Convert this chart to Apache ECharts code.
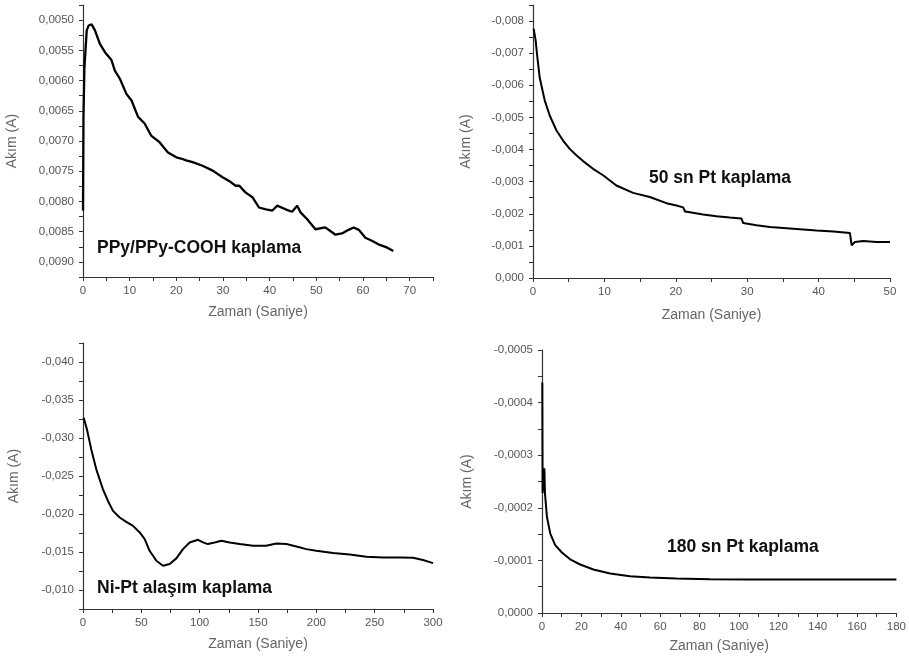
<!DOCTYPE html>
<html>
<head>
<meta charset="utf-8">
<script src="https://cdn.jsdelivr.net/npm/echarts@6/dist/echarts.min.js"></script>
<style>
html,body{margin:0;padding:0;background:#fff;}
#c{width:909px;height:659px;}
</style>
</head>
<body>
<div id="c"></div>
<script>
// ---- Data (time in seconds, current in A) ----
const ppyTime = [0, 0.1, 0.3, 0.64, 0.8, 1.2, 1.85, 2.56, 3.6, 4.7, 6.1, 6.8, 7.9, 9.3, 10.4, 11.8, 13.2, 14.6, 16.4, 18.2, 20, 21, 22.1, 23.5, 25.6, 27.8, 29.9, 31.3, 32.7, 33.5, 34.8, 36.3, 37.7, 39.2, 40.6, 41.6, 43.4, 44.8, 45.9, 46.6, 48, 49.8, 51.9, 53, 54.1, 55.5, 56.9, 58, 59.1, 60.5, 61.9, 63.3, 65.1, 66.5];
const ppyCurrent = [0.00815, 0.0066, 0.0058, 0.00578, 0.00517, 0.00509, 0.00507, 0.00517, 0.00539, 0.00553, 0.00566, 0.00583, 0.00597, 0.00622, 0.00633, 0.0066, 0.00671, 0.00691, 0.00702, 0.00719, 0.00727, 0.00729, 0.00732, 0.00735, 0.00741, 0.00749, 0.0076, 0.00766, 0.00774, 0.00774, 0.00785, 0.00793, 0.0081, 0.00813, 0.00815, 0.00807, 0.00813, 0.00817, 0.00807, 0.00818, 0.00829, 0.00846, 0.00843, 0.00849, 0.00855, 0.00853, 0.00847, 0.00843, 0.00847, 0.0086, 0.00865, 0.00871, 0.00876, 0.00882];

const pt50Time = [0.09, 0.37, 0.56, 0.93, 1.64, 2.34, 3.27, 4.21, 5.14, 6.07, 7.01, 8.41, 9.81, 11.68, 14.02, 16.36, 18.69, 20.09, 21.03, 21.3, 21.96, 23.83, 25.7, 27.57, 29.2, 29.44, 31.31, 33.18, 35.05, 37.38, 39.72, 42.06, 44.39, 44.63, 45.09, 46.26, 48.13, 50];
const pt50Current = [-0.00776, -0.0074, -0.00698, -0.00625, -0.00553, -0.00506, -0.0046, -0.00428, -0.00402, -0.00382, -0.00364, -0.0034, -0.0032, -0.00288, -0.00265, -0.00252, -0.00233, -0.00226, -0.0022, -0.00207, -0.00205, -0.00198, -0.00192, -0.00188, -0.00185, -0.00171, -0.00164, -0.00159, -0.00156, -0.00152, -0.00148, -0.00145, -0.0014, -0.00102, -0.00112, -0.00115, -0.00112, -0.00112];

const niptTime = [0.6, 3.4, 7.1, 11.4, 17.1, 21.4, 25.7, 31.4, 37.1, 42.9, 48.6, 52.9, 57.1, 62.9, 68.6, 74.3, 80, 85.7, 91.4, 98.6, 102.9, 107, 112.9, 118.6, 125.7, 134.3, 145.7, 157, 165.7, 174.3, 182.9, 191.4, 200, 214.3, 228.6, 242.9, 257.1, 271.4, 282.9, 291.4, 300];
const niptCurrent = [-0.03265, -0.03112, -0.0285, -0.02588, -0.02325, -0.02172, -0.02041, -0.01954, -0.01897, -0.01844, -0.01757, -0.01669, -0.01516, -0.01385, -0.0132, -0.01342, -0.01416, -0.01538, -0.01626, -0.01661, -0.01626, -0.01604, -0.01626, -0.01648, -0.01626, -0.01604, -0.01582, -0.01582, -0.01613, -0.01604, -0.01573, -0.01538, -0.01516, -0.01486, -0.01468, -0.01438, -0.01429, -0.01429, -0.01424, -0.01394, -0.01354];

const pt180Time = [0.15, 0.3, 0.7, 1.2, 1.5, 2.5, 4.2, 6.7, 10.1, 14.3, 19.4, 26.1, 34.6, 44.7, 54.8, 68.3, 85.2, 105.4, 139, 180];
const pt180Current = [-0.000438, -0.000228, -0.000228, -0.000275, -0.000228, -0.000183, -0.000151, -0.000129, -0.000115, -0.000102, -0.0000922, -0.0000827, -0.0000751, -0.00007, -0.0000674, -0.0000655, -0.0000642, -0.0000636, -0.0000636, -0.0000636];

const panelLabels = ['PPy/PPy-COOH kaplama', '50 sn Pt kaplama', 'Ni-Pt alaşım kaplama', '180 sn Pt kaplama'];
const xName = 'Zaman (Saniye)';
const yName = 'Akım (A)';

// ---- helpers ----
function pairs(xs, ys){ return xs.map((x,i)=>[x, ys[i]]); }
function fmt(step, every, dec){
  return function(v){
    const k = Math.round(v/step);
    if (k % every !== 0) return '';
    let s = (Math.abs(v) < 1e-12 ? 0 : v).toFixed(dec);
    return s.replace('.', ',');
  };
}
const FONT = 'Liberation Sans, Arial, sans-serif';
const axisCommon = {
  axisLine: {show: true, onZero: false, lineStyle: {color: '#333', width: 1.2}},
  axisTick: {show: true, inside: false, length: 4, lineStyle: {color: '#333'}},
  splitLine: {show: false},
  axisLabel: {color: '#555', fontSize: 11.5, fontFamily: FONT, margin: 8},
  nameTextStyle: {color: '#666', fontSize: 14, fontFamily: FONT},
  nameLocation: 'middle'
};
function xAx(i, max, step, every, gap){
  return Object.assign({}, axisCommon, {
    type: 'value', gridIndex: i, min: 0, max: max, interval: step,
    name: xName, nameGap: gap,
    axisLabel: Object.assign({}, axisCommon.axisLabel, {formatter: fmt(step, every, 0), showMinLabel: true, showMaxLabel: true})
  });
}
function yAx(i, min, max, step, every, dec, gap){
  return Object.assign({}, axisCommon, {
    type: 'value', gridIndex: i, min: min, max: max, interval: step, inverse: true,
    name: yName, nameGap: gap,
    axisLabel: Object.assign({}, axisCommon.axisLabel, {formatter: fmt(step, every, dec), margin: 9, showMinLabel: true, showMaxLabel: true})
  });
}
function ser(i, xs, ys, w){
  return {type: 'line', xAxisIndex: i, yAxisIndex: i, data: pairs(xs, ys), showSymbol: false, smooth: false,
    lineStyle: {color: '#000', width: w}, animation: false};
}

const chart = echarts.init(document.getElementById('c'), null, {renderer: 'canvas'});
chart.setOption({
  backgroundColor: '#fff',
  animation: false,
  grid: [
    {left: 83, top: 5, width: 350, height: 272},
    {left: 533, top: 5, width: 357, height: 273},
    {left: 83, top: 343, width: 350, height: 266},
    {left: 542, top: 350, width: 355, height: 263}
  ],
  xAxis: [
    xAx(0, 75, 5, 2, 28),
    xAx(1, 50, 5, 2, 30),
    xAx(2, 300, 25, 2, 28),
    xAx(3, 180, 10, 2, 26)
  ],
  yAxis: [
    yAx(0, 0.00475, 0.00925, 0.00025, 2, 4, 64),
    yAx(1, -0.0085, 0, 0.0005, 2, 3, 60),
    yAx(2, -0.0425, -0.0075, 0.0025, 2, 3, 62),
    yAx(3, -0.0005, 0, 0.00005, 2, 4, 68)
  ],
  series: [
    ser(0, ppyTime, ppyCurrent, 2.3),
    ser(1, pt50Time, pt50Current, 2),
    ser(2, niptTime, niptCurrent, 2),
    ser(3, pt180Time, pt180Current, 2)
  ],
  graphic: [
    {type: 'text', left: 97, top: 239, style: {text: panelLabels[0], font: 'bold 17.5px ' + FONT, fill: '#111'}},
    {type: 'text', left: 649, top: 169, style: {text: panelLabels[1], font: 'bold 17.5px ' + FONT, fill: '#111'}},
    {type: 'text', left: 97, top: 579, style: {text: panelLabels[2], font: 'bold 17.5px ' + FONT, fill: '#111'}},
    {type: 'text', left: 667, top: 538, style: {text: panelLabels[3], font: 'bold 17.5px ' + FONT, fill: '#111'}}
  ]
});
</script>
</body>
</html>
